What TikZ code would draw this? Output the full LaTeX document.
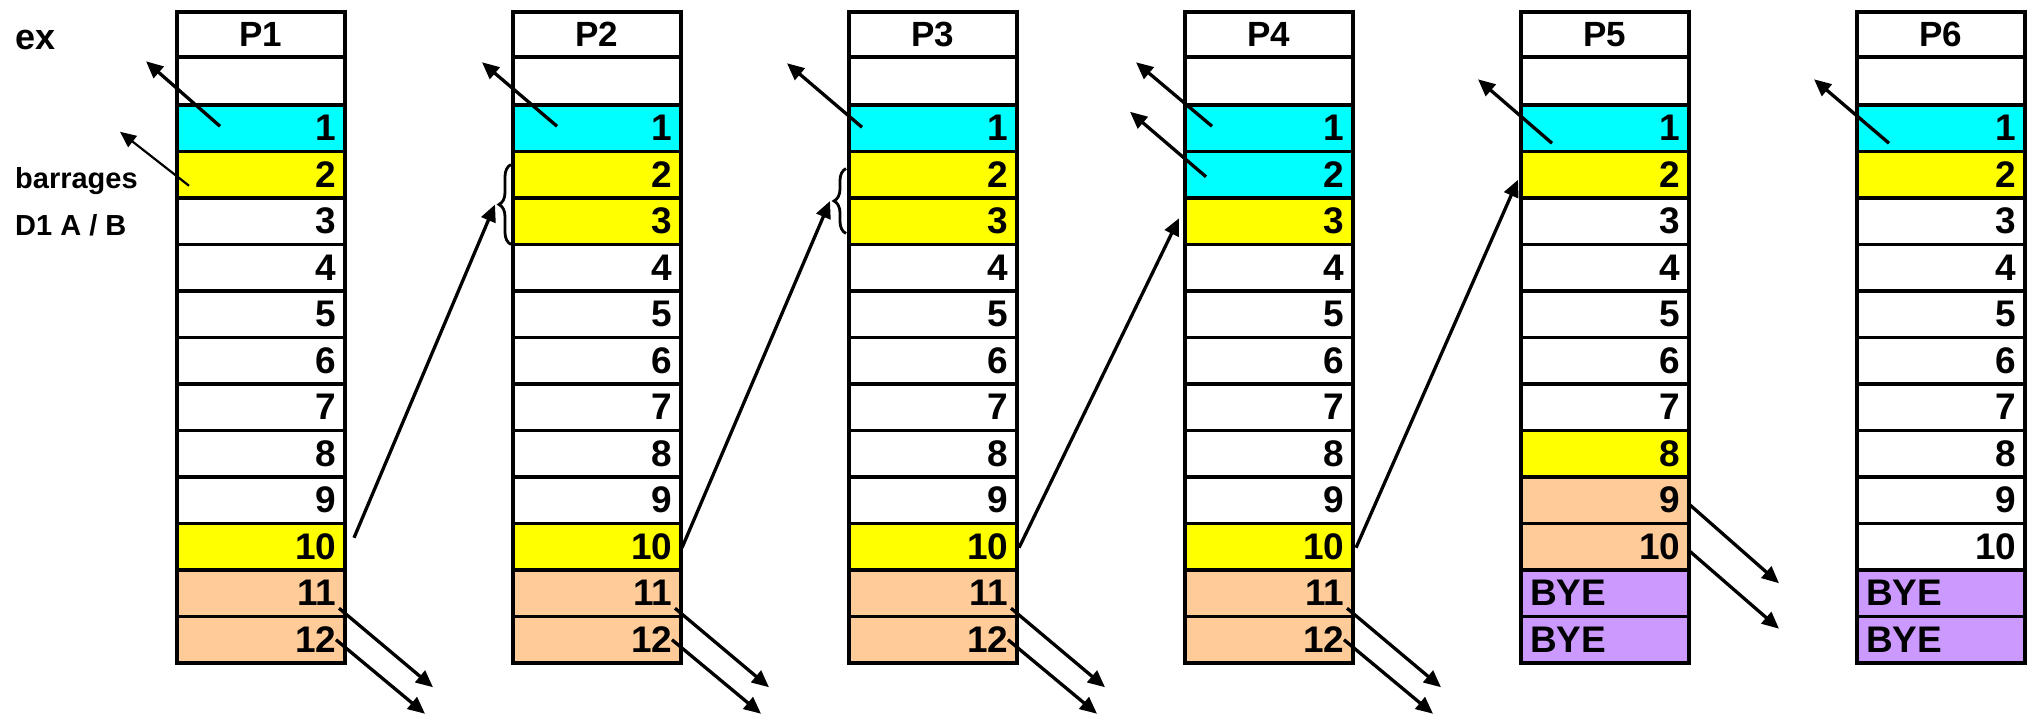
\documentclass[tikz,border=0pt]{standalone}
\usepackage{fontspec}
\setmainfont{Liberation Sans}
\usetikzlibrary{arrows.meta,decorations.pathreplacing,calc}
\definecolor{cy}{HTML}{00FFFF}
\definecolor{ye}{HTML}{FFFF00}
\definecolor{pe}{HTML}{FFCC99}
\definecolor{pu}{HTML}{CC99FF}
\begin{document}
\begin{tikzpicture}[x=1pt,y=-1pt,
  cellbox/.style={draw, line width=3.3pt, minimum width=168pt, inner sep=0pt, outer sep=0pt,
    font=\bfseries\fontsize{37}{37}\selectfont},
  numcell/.style={cellbox, minimum height=46.5pt, text width=151pt, align=right},
  byecell/.style={cellbox, minimum height=46.5pt, fill=pu, text width=150pt, align=left},
  hdrcell/.style={cellbox, minimum height=45pt, font=\bfseries\fontsize{35}{35}\selectfont},
  blankcell/.style={cellbox, minimum height=48pt},
  arr/.style={line width=3.3pt, -{Triangle[length=17pt,width=15pt]}},
  thinarr/.style={line width=2.2pt, -{Triangle[length=16pt,width=14pt]}},
  bracestyle/.style={line width=2.8pt, decorate, decoration={brace, amplitude=12pt}},
  lbl/.style={anchor=base west, inner sep=0pt, font=\bfseries\fontsize{29}{29}\selectfont}
]
\useasboundingbox (0,0) rectangle (2039,717);

\foreach \col/\lab/\spec in {
  1/P1/{cy,ye,white,white,white,white,white,white,white,ye,pe,pe},
  2/P2/{cy,ye,ye,white,white,white,white,white,white,ye,pe,pe},
  3/P3/{cy,ye,ye,white,white,white,white,white,white,ye,pe,pe},
  4/P4/{cy,cy,ye,white,white,white,white,white,white,ye,pe,pe},
  5/P5/{cy,ye,white,white,white,white,white,ye,pe,pe},
  6/P6/{cy,ye,white,white,white,white,white,white,white,white}}{
  \pgfmathsetmacro{\cx}{177+336*(\col-1)+84}
  \node[hdrcell] (h\col) at (\cx,34.5) {\lab};
  \node[blankcell] (b\col) at (\cx,81) {};
  \foreach \f [count=\r] in \spec {
    \node[numcell, fill=\f] (c\col-\r) at (\cx,81.75+46.5*\r) {\r};
  }
}
\foreach \col in {5,6}{
  \pgfmathsetmacro{\cx}{177+336*(\col-1)+84}
  \node[byecell] (c\col-11) at (\cx,81.75+46.5*11) {BYE};
  \node[byecell] (c\col-12) at (\cx,81.75+46.5*12) {BYE};
}

% labels
\node[lbl, font=\bfseries\fontsize{36}{36}\selectfont] (ex) at (15,49) {ex};
\node[lbl] (barr) at (15,188) {barrages};
\node[lbl] (dab) at (15,235) {D1 A / B};

% top-left arrows
\draw[arr] ([shift={(43,-2)}]c1-1.west) -- ([shift={(-31,-67)}]c1-1.west);
\draw[thinarr] ([shift={(12,11)}]c1-2.west) -- ([shift={(-57,-43)}]c1-2.west);
\draw[arr] ([shift={(44,-2)}]c2-1.west) -- ([shift={(-31,-66)}]c2-1.west);
\draw[arr] ([shift={(13,-1)}]c3-1.west) -- ([shift={(-62,-65)}]c3-1.west);
\draw[arr] ([shift={(27,-2)}]c4-1.west) -- ([shift={(-49,-66)}]c4-1.west);
\draw[arr] ([shift={(21,2)}]c4-2.west) -- ([shift={(-55,-63)}]c4-2.west);
\draw[arr] ([shift={(31,15)}]c5-1.west) -- ([shift={(-43,-49)}]c5-1.west);
\draw[arr] ([shift={(32,15)}]c6-1.west) -- ([shift={(-43,-49)}]c6-1.west);

% braces
\draw[bracestyle] ([shift={(-2,0)}]c2-3.south west) -- ([shift={(-2,13)}]c2-2.north west) coordinate[pos=0.5] (m2);
\draw[bracestyle] ([shift={(-3,-11)}]c3-3.south west) -- ([shift={(-3,17)}]c3-2.north west) coordinate[pos=0.5] (m3);
\coordinate (t2) at ([xshift=-16pt]m2);
\coordinate (t3) at ([xshift=-16pt]m3);

% long arrows
\draw[arr] ([shift={(9,-9)}]c1-10.east) -- (t2);
\draw[arr] ([shift={(1,1)}]c2-10.east) -- (t3);
\draw[arr] ([shift={(2,1)}]c3-10.east) -- ([shift={(-6,-3)}]c4-3.west);
\draw[arr] ([shift={(3,1)}]c4-10.east) -- ([shift={(-3,5)}]c5-2.west);

% bottom arrows
\foreach \col in {1,2,3,4}{
  \draw[arr] ([shift={(-6,15)}]c\col-11.east) -- ([shift={(88,94)}]c\col-11.east);
  \draw[arr] ([shift={(-9,0)}]c\col-12.east) -- ([shift={(80,74)}]c\col-12.east);
}
\draw[arr] ([shift={(-1,3)}]c5-9.east) -- ([shift={(90,83)}]c5-9.east);
\draw[arr] ([shift={(-1,3)}]c5-10.east) -- ([shift={(90,82)}]c5-10.east);
\end{tikzpicture}
\end{document}
